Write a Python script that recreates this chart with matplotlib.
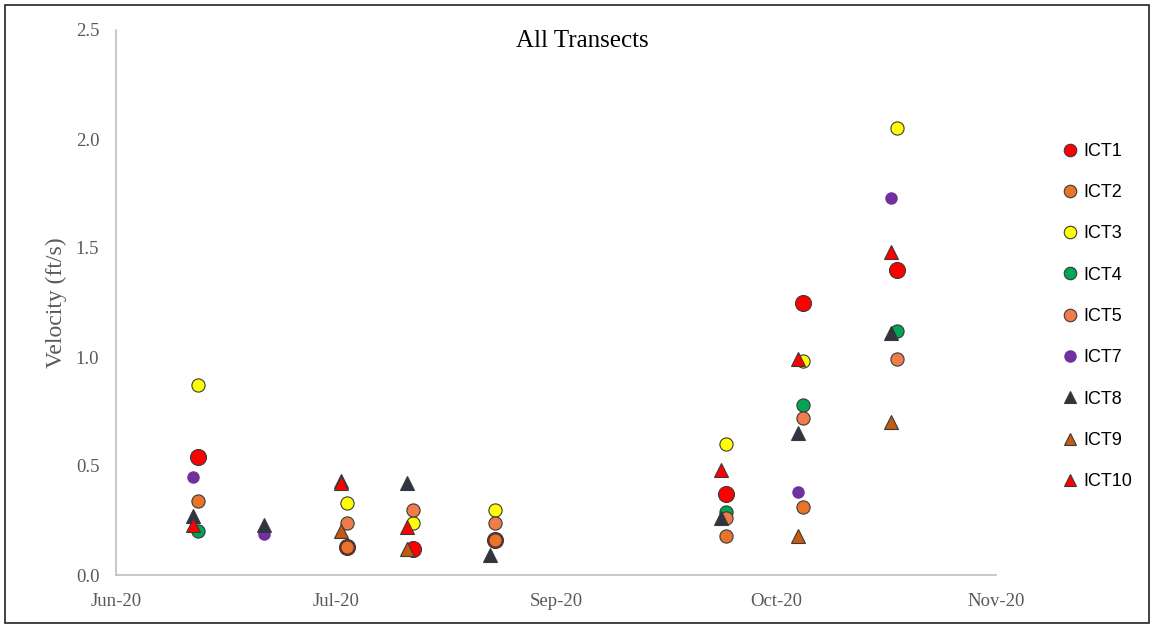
import matplotlib
matplotlib.use("Agg")
import matplotlib.pyplot as plt
import matplotlib.dates as mdates
from matplotlib.patches import Rectangle
import numpy as np
import pandas as pd

nan = np.nan

# survey days: triangles / ICT7 on the first day, circles on the next day
dates_a = pd.to_datetime(["2020-07-04", "2020-07-17", "2020-07-31", "2020-08-12",
                          "2020-08-27", "2020-10-08", "2020-10-22", "2020-11-08"])
dates_b = pd.to_datetime(["2020-07-05", "2020-07-18", "2020-08-01", "2020-08-13",
                          "2020-08-28", "2020-10-09", "2020-10-23", "2020-11-09"])

ict1 = [0.54, nan, 0.13, 0.12, 0.16, 0.37, 1.25, 1.40]
ict2 = [0.34, nan, 0.13, nan, 0.16, 0.18, 0.31, nan]
ict3 = [0.87, nan, 0.33, 0.24, 0.30, 0.60, 0.98, 2.05]
ict4 = [0.20, nan, nan, nan, nan, 0.29, 0.78, 1.12]
ict5 = [nan, nan, 0.24, 0.30, 0.24, 0.26, 0.72, 0.99]
ict7 = [0.45, 0.19, nan, nan, nan, nan, 0.38, 1.73]
ict8 = [0.27, 0.23, 0.43, 0.42, 0.09, 0.26, 0.65, 1.11]
ict9 = [nan, nan, 0.20, 0.12, nan, nan, 0.18, 0.70]
ict10 = [0.23, nan, 0.42, 0.22, nan, 0.48, 0.99, 1.48]

x_start = pd.Timestamp("2020-06-20")
x_ticks = pd.date_range(x_start, periods=5, freq="40D")

EDGE = "#3a3a3a"
series = [
    ("ICT1", dates_b, ict1, "o", 11.5, "#ff0000", EDGE),
    ("ICT2", dates_b, ict2, "o", 9.5, "#e8742a", EDGE),
    ("ICT3", dates_b, ict3, "o", 9.5, "#ffff00", EDGE),
    ("ICT4", dates_b, ict4, "o", 9.5, "#00a651", EDGE),
    ("ICT5", dates_b, ict5, "o", 9.5, "#f07c4a", EDGE),
    ("ICT7", dates_a, ict7, "o", 9, "#7030a0", "none"),
    ("ICT8", dates_a, ict8, "^", 10.5, "#2e3440", EDGE),
    ("ICT9", dates_a, ict9, "^", 10.5, "#c55a11", EDGE),
    ("ICT10", dates_a, ict10, "^", 10.5, "#ff0000", EDGE),
]

fig = plt.figure(figsize=(11.54, 6.25), dpi=100)
ax = fig.add_axes([0.1005, 0.08, 0.7625, 0.872])

for name, d, v, m, ms, fc, ec in series:
    ax.plot(d, v, linestyle="none", marker=m, markersize=ms,
            markerfacecolor=fc, markeredgecolor=ec, markeredgewidth=0.8,
            label=name)

ax.set_xlim(x_start, x_ticks[-1])
ax.set_ylim(0, 2.5)
ax.set_xticks(x_ticks)
ax.xaxis.set_major_formatter(mdates.DateFormatter("%b-%y"))
ax.set_yticks(np.arange(0, 2.51, 0.5))
ax.yaxis.set_major_formatter(matplotlib.ticker.FormatStrFormatter("%.1f"))

serif = "Liberation Serif"
ax.tick_params(length=0, labelsize=13.5, labelcolor="#595959")
ax.tick_params(axis="y", pad=12)
ax.tick_params(axis="x", pad=13)
for lab in ax.get_xticklabels() + ax.get_yticklabels():
    lab.set_family(serif)

ax.spines[["top", "right"]].set_visible(False)
ax.spines[["left", "bottom"]].set_color("#bfbfbf")
ax.spines[["left", "bottom"]].set_linewidth(1.2)

ax.set_ylabel("Velocity (ft/s)", family=serif, fontsize=17, color="#595959",
              labelpad=6)
fig.text(0.505, 0.935, "All Transects", family=serif, fontsize=18,
         ha="center", va="center", color="#000000")

leg = ax.legend(loc="upper left", bbox_to_anchor=(0.915, 0.783),
                bbox_transform=fig.transFigure, frameon=False,
                prop={"family": "Liberation Sans", "size": 13},
                labelspacing=1.345, handlelength=0.8, handletextpad=0.3,
                borderaxespad=0)
for h in leg.legend_handles:
    h.set_markersize(9)

fig.patches.append(Rectangle((0.004, 0.004), 0.992, 0.988,
                             transform=fig.transFigure, fill=False,
                             edgecolor="#222222", linewidth=1.2))

fig.savefig("out.png", dpi=100)
